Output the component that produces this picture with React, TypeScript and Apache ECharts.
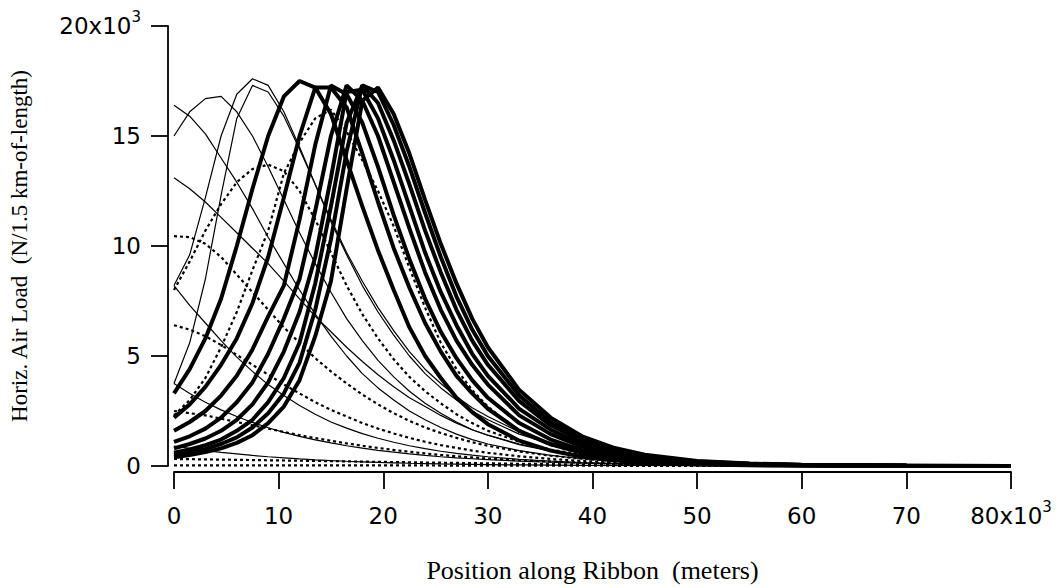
import React, { useEffect, useRef } from "react";
import * as echarts from "echarts";

// positions along ribbon (x10^3 m)
const X = [0, 1.5, 3, 4.5, 6, 7.5, 9, 10.5, 12, 13.5, 15, 16.5, 18, 19.5, 21, 22.5, 24, 25.5, 27, 28.5, 30, 33, 36, 39, 42, 45, 50, 55, 60, 70, 80];

// thin solid curves (x10^3 N)
const THIN_1 = [16.4, 15.9, 15.1, 14.0, 12.9, 11.7, 10.4, 9.2, 8.0, 6.9, 5.9, 5.0, 4.2, 3.55, 3.0, 2.5, 2.1, 1.75, 1.45, 1.2, 1.0, 0.7, 0.48, 0.33, 0.23, 0.16, 0.08, 0.04, 0.02, 0.005, 0];
const THIN_2 = [15.0, 16.1, 16.7, 16.8, 16.1, 15.0, 13.6, 12.1, 10.6, 9.2, 7.9, 6.7, 5.7, 4.8, 4.05, 3.4, 2.85, 2.4, 2.0, 1.65, 1.4, 0.97, 0.67, 0.46, 0.32, 0.22, 0.11, 0.055, 0.03, 0.008, 0];
const THIN_3 = [13.1, 12.6, 12.0, 11.3, 10.6, 9.9, 9.2, 8.4, 7.6, 6.8, 6.1, 5.4, 4.75, 4.15, 3.6, 3.1, 2.7, 2.3, 1.95, 1.65, 1.4, 1.0, 0.7, 0.5, 0.35, 0.24, 0.12, 0.06, 0.03, 0.008, 0];
const THIN_4 = [8.2, 9.6, 12.2, 15.0, 16.9, 17.6, 17.3, 16.1, 14.5, 12.8, 11.1, 9.6, 8.2, 7.0, 5.95, 5.0, 4.2, 3.55, 3.0, 2.5, 2.1, 1.45, 1.0, 0.7, 0.48, 0.33, 0.17, 0.085, 0.045, 0.012, 0];
const THIN_5 = [8.2, 7.3, 6.5, 5.7, 4.95, 4.3, 3.7, 3.2, 2.75, 2.35, 2.0, 1.72, 1.47, 1.26, 1.08, 0.92, 0.79, 0.67, 0.57, 0.49, 0.42, 0.3, 0.22, 0.16, 0.12, 0.085, 0.045, 0.025, 0.013, 0.004, 0];
const THIN_6 = [3.75, 5.6, 8.5, 12.3, 15.8, 17.3, 17.0, 15.9, 14.4, 12.8, 11.2, 9.7, 8.4, 7.2, 6.15, 5.2, 4.4, 3.75, 3.15, 2.65, 2.25, 1.55, 1.07, 0.74, 0.51, 0.35, 0.18, 0.09, 0.048, 0.013, 0];
const THIN_7 = [3.75, 3.3, 2.9, 2.55, 2.25, 1.98, 1.74, 1.53, 1.35, 1.19, 1.05, 0.92, 0.81, 0.71, 0.63, 0.55, 0.48, 0.42, 0.37, 0.33, 0.29, 0.22, 0.17, 0.13, 0.1, 0.075, 0.045, 0.025, 0.015, 0.005, 0];
const THIN_8 = [0.9, 0.8, 0.7, 0.62, 0.55, 0.48, 0.42, 0.37, 0.32, 0.28, 0.245, 0.215, 0.19, 0.165, 0.145, 0.125, 0.11, 0.095, 0.083, 0.072, 0.063, 0.048, 0.037, 0.028, 0.021, 0.016, 0.01, 0.006, 0.004, 0.001, 0];

// dotted curves
const DOT_1 = [10.45, 10.4, 10.1, 9.5, 8.7, 7.9, 7.1, 6.3, 5.6, 4.9, 4.3, 3.75, 3.25, 2.8, 2.4, 2.05, 1.75, 1.5, 1.28, 1.08, 0.92, 0.66, 0.47, 0.33, 0.23, 0.16, 0.08, 0.04, 0.02, 0.005, 0];
const DOT_2 = [6.4, 6.2, 5.9, 5.5, 5.05, 4.6, 4.15, 3.7, 3.3, 2.9, 2.55, 2.25, 1.95, 1.7, 1.48, 1.28, 1.1, 0.95, 0.82, 0.7, 0.6, 0.44, 0.32, 0.23, 0.16, 0.11, 0.06, 0.03, 0.015, 0.004, 0];
const DOT_3 = [2.5, 2.4, 2.3, 2.15, 2.0, 1.85, 1.7, 1.55, 1.4, 1.27, 1.15, 1.03, 0.92, 0.82, 0.73, 0.65, 0.57, 0.5, 0.44, 0.39, 0.34, 0.26, 0.2, 0.15, 0.11, 0.08, 0.045, 0.025, 0.013, 0.004, 0];
const DOT_4 = [0.32, 0.31, 0.3, 0.29, 0.28, 0.27, 0.26, 0.25, 0.24, 0.23, 0.22, 0.21, 0.2, 0.19, 0.18, 0.17, 0.16, 0.15, 0.14, 0.13, 0.12, 0.1, 0.085, 0.07, 0.06, 0.05, 0.035, 0.025, 0.018, 0.008, 0];
const DOT_5 = [0.03, 0.03, 0.03, 0.03, 0.03, 0.03, 0.03, 0.03, 0.03, 0.03, 0.03, 0.03, 0.03, 0.03, 0.03, 0.03, 0.03, 0.02, 0.02, 0.02, 0.02, 0.02, 0.02, 0.02, 0.01, 0.01, 0.01, 0.01, 0.01, 0.01, 0];
const DOT_6 = [8.0, 9.3, 10.7, 11.9, 12.9, 13.5, 13.7, 13.4, 12.5, 11.2, 9.7, 8.2, 6.9, 5.8, 4.85, 4.05, 3.4, 2.85, 2.35, 1.95, 1.6, 1.1, 0.75, 0.51, 0.35, 0.24, 0.12, 0.06, 0.03, 0.008, 0];
const DOT_7 = [2.3, 3.0, 4.0, 5.4, 7.0, 8.9, 10.7, 13.3, 14.7, 15.8, 16.2, 15.2, 13.9, 12.5, 10.9, 9.0, 7.2, 5.6, 4.4, 3.45, 2.7, 1.55, 0.95, 0.58, 0.36, 0.22, 0.1, 0.05, 0.025, 0.007, 0];

// thick curves
const THICK_A = [3.3, 4.4, 5.8, 7.6, 10.0, 12.6, 15.0, 16.8, 17.5, 17.2, 16.0, 13.9, 11.8, 9.8, 8.0, 6.3, 5.0, 4.0, 3.1, 2.45, 1.9, 1.15, 0.7, 0.42, 0.26, 0.16, 0.07, 0.03, 0.02, 0.01, 0];
const THICK_B = [2.2, 2.8, 3.6, 4.6, 5.8, 7.4, 9.5, 12.2, 15.0, 17.2, 17.2, 16.3, 14.2, 12.0, 9.9, 8.1, 6.5, 5.2, 4.1, 3.3, 2.6, 1.6, 0.98, 0.6, 0.36, 0.22, 0.1, 0.05, 0.025, 0.01, 0];
const THICK_C = [1.6, 2.0, 2.5, 3.2, 4.1, 5.3, 6.8, 8.2, 11.2, 14.6, 17.3, 16.9, 15.6, 13.6, 11.4, 9.4, 7.6, 6.1, 4.9, 3.9, 3.1, 1.95, 1.2, 0.72, 0.44, 0.27, 0.12, 0.06, 0.03, 0.01, 0];
const THICK_D = [1.1, 1.35, 1.7, 2.2, 2.9, 3.8, 5.1, 6.7, 8.5, 11.6, 15.0, 17.3, 16.6, 15.0, 12.9, 10.8, 8.8, 7.1, 5.7, 4.6, 3.7, 2.3, 1.45, 0.88, 0.54, 0.33, 0.15, 0.07, 0.035, 0.01, 0];
const THICK_E = [0.8, 1.0, 1.25, 1.6, 2.1, 2.8, 3.8, 5.2, 7.0, 9.5, 13.1, 17.0, 17.1, 15.8, 13.9, 11.8, 9.7, 7.9, 6.4, 5.1, 4.1, 2.6, 1.65, 1.0, 0.62, 0.38, 0.17, 0.08, 0.04, 0.01, 0];
const THICK_F = [0.6, 0.75, 0.95, 1.2, 1.6, 2.1, 2.9, 4.0, 5.6, 8.3, 11.8, 15.6, 17.3, 16.5, 14.8, 12.8, 10.7, 8.8, 7.1, 5.7, 4.6, 2.95, 1.85, 1.15, 0.7, 0.43, 0.19, 0.09, 0.045, 0.01, 0];
const THICK_G = [0.5, 0.62, 0.78, 1.0, 1.3, 1.75, 2.4, 3.3, 4.7, 7.1, 10.3, 14.3, 17.3, 17.0, 15.5, 13.6, 11.5, 9.5, 7.7, 6.2, 5.0, 3.2, 2.0, 1.25, 0.77, 0.47, 0.21, 0.1, 0.05, 0.01, 0];
const THICK_H = [0.4, 0.5, 0.63, 0.8, 1.05, 1.4, 1.95, 2.7, 3.9, 5.9, 8.4, 12.6, 16.6, 17.2, 16.0, 14.2, 12.1, 10.1, 8.3, 6.7, 5.4, 3.45, 2.2, 1.35, 0.83, 0.51, 0.23, 0.11, 0.055, 0.015, 0];

const THIN = [THIN_1, THIN_2, THIN_3, THIN_4, THIN_5, THIN_6, THIN_7, THIN_8];
const DOTTED = [DOT_1, DOT_2, DOT_3, DOT_4, DOT_5, DOT_6, DOT_7];
const THICK = [THICK_A, THICK_B, THICK_C, THICK_D, THICK_E, THICK_F, THICK_G, THICK_H];

const Y_TICKS = [0, 5, 10, 15, 20];
const X_TICKS = [0, 10, 20, 30, 40, 50, 60, 70, 80];

const LABEL_FONT = "DejaVu Sans";
const TITLE_FONT = "Liberation Serif";

const pairs = (ys: number[]) => X.map((x, i) => [x, ys[i]]);

const rich = {
  b: { fontFamily: LABEL_FONT, fontSize: 23, lineHeight: 34, color: "#000", verticalAlign: "middle" as const },
  s: { fontFamily: LABEL_FONT, fontSize: 15, lineHeight: 15, color: "#000", padding: [0, 0, 19, 0], verticalAlign: "bottom" as const },
};

export default function App() {
  const ref = useRef<HTMLDivElement>(null);
  useEffect(() => {
    if (!ref.current) return;
    const chart = echarts.init(ref.current, undefined, { renderer: "svg" });
    const series: any[] = [];
    THIN.forEach((ys, i) =>
      series.push({
        type: "line", name: "thin" + i, data: pairs(ys), showSymbol: false, symbol: "none",
        lineStyle: { color: "#000", width: 1.2 }, z: 2,
      })
    );
    DOTTED.forEach((ys, i) =>
      series.push({
        type: "line", name: "dot" + i, data: pairs(ys), showSymbol: false, symbol: "none",
        lineStyle: { color: "#000", width: 2.2, type: [3, 3] }, z: 3,
      })
    );
    THICK.forEach((ys, i) =>
      series.push({
        type: "line", name: "thick" + i, data: pairs(ys), showSymbol: false, symbol: "none",
        lineStyle: { color: "#000", width: 4 }, z: 4,
      })
    );
    chart.setOption({
      animation: false,
      backgroundColor: "#fff",
      grid: { left: 174, right: 47, top: 26, bottom: 120, containLabel: false },
      xAxis: {
        type: "value", min: 0, max: 80, interval: 10, offset: 6,
        axisLine: { show: true, onZero: false, lineStyle: { color: "#000", width: 1.8 } },
        axisTick: { show: true, length: 17, lineStyle: { color: "#000", width: 1.8 } },
        splitLine: { show: false },
        axisLabel: {
          margin: 27, rich,
          formatter: (v: number) => (X_TICKS.includes(v) ? (v === 80 ? `{b|80x10}{s|3}` : `{b|${v}}`) : ""),
        },
        name: "Position along Ribbon  (meters)", nameLocation: "middle", nameGap: 85,
        nameTextStyle: { fontFamily: TITLE_FONT, fontSize: 26, color: "#000" },
      },
      yAxis: {
        type: "value", min: 0, max: 20, interval: 5, offset: 6,
        axisLine: { show: true, onZero: false, lineStyle: { color: "#000", width: 1.8 } },
        axisTick: { show: true, length: 17, lineStyle: { color: "#000", width: 1.8 } },
        splitLine: { show: false },
        axisLabel: {
          margin: 27, rich,
          formatter: (v: number) => (Y_TICKS.includes(v) ? (v === 20 ? `{b|20x10}{s|3}` : `{b|${v}}`) : ""),
        },
        name: "Horiz. Air Load  (N/1.5 km-of-length)", nameLocation: "middle", nameGap: 137, nameRotate: 90,
        nameTextStyle: { fontFamily: TITLE_FONT, fontSize: 23, color: "#000" },
      },
      series,
    });
    return () => chart.dispose();
  }, []);
  return <div ref={ref} style={{ position: "fixed", left: 0, top: 0, width: 1058, height: 588, background: "#fff" }} />;
}
